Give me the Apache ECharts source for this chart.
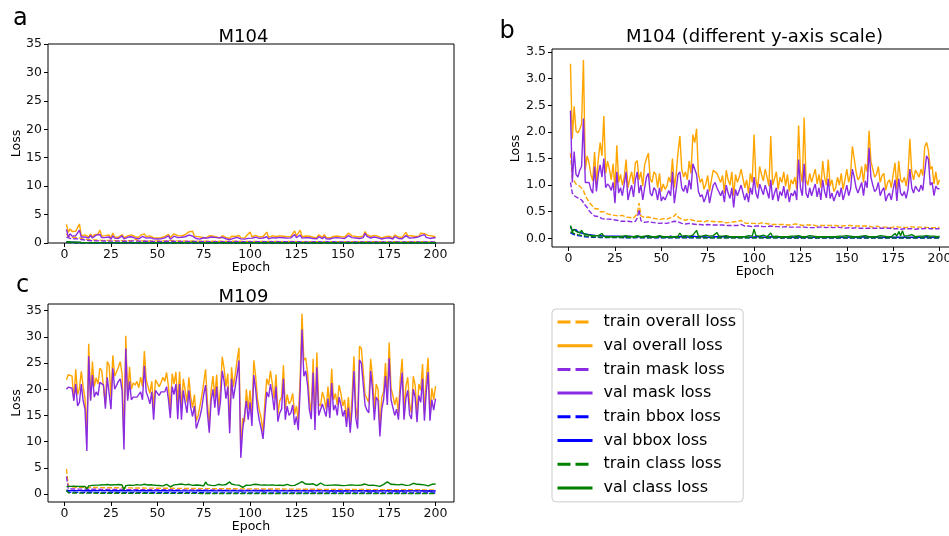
<!DOCTYPE html>
<html lang="en">
<head>
    <meta charset="utf-8">
    <title>M104 / M109 loss curves</title>
    <script src="https://cdn.jsdelivr.net/npm/echarts@6/dist/echarts.min.js"></script>
    <style>
        html, body { margin: 0; padding: 0; background: #fff; }
        #chart { width: 949px; height: 536px; }
    </style>
</head>
<body>
    <div id="chart"></div>
    <script>
        // epochs 1..200
        var epochs = [];
        for (var i = 1; i <= 200; i++) epochs.push(i);
        var xTicks = [0, 25, 50, 75, 100, 125, 150, 175, 200];
        var yTicksA = [0, 5, 10, 15, 20, 25, 30, 35];
        var yTicksB = [0, 0.5, 1.0, 1.5, 2.0, 2.5, 3.0, 3.5];
        var yTicksC = [0, 5, 10, 15, 20, 25, 30, 35];

        var names = ['train overall loss', 'val overall loss', 'train mask loss', 'val mask loss',
                     'train bbox loss', 'val bbox loss', 'train class loss', 'val class loss'];
        var colors = ['#ffa500', '#ffa500', '#8a2be2', '#8a2be2', '#0000ff', '#0000ff', '#008000', '#008000'];

        // ---- M104 ----
        var to104 = [
            1.60,1.12,1.08,1.02,1.00,0.98,0.95,0.90,0.80,0.74, 0.68,0.64,0.60,0.56,0.54,0.55,0.50,0.49,0.50,0.47,
            0.46,0.47,0.44,0.45,0.43,0.44,0.42,0.41,0.43,0.42, 0.40,0.41,0.39,0.40,0.38,0.41,0.46,0.66,0.42,0.40,
            0.39,0.38,0.40,0.37,0.38,0.36,0.37,0.38,0.35,0.36, 0.37,0.35,0.36,0.38,0.39,0.40,0.42,0.46,0.40,0.37,
            0.36,0.37,0.34,0.35,0.36,0.33,0.34,0.35,0.32,0.33, 0.32,0.33,0.31,0.32,0.33,0.31,0.32,0.30,0.31,0.32,
            0.31,0.30,0.31,0.30,0.29,0.31,0.30,0.29,0.31,0.30, 0.31,0.32,0.34,0.30,0.29,0.28,0.29,0.28,0.27,0.28,
            0.28,0.27,0.28,0.29,0.27,0.28,0.26,0.27,0.28,0.26, 0.27,0.26,0.27,0.26,0.25,0.26,0.27,0.25,0.26,0.25,
            0.26,0.27,0.25,0.26,0.25,0.24,0.26,0.25,0.24,0.25, 0.24,0.25,0.24,0.23,0.25,0.24,0.25,0.24,0.23,0.24,
            0.25,0.24,0.23,0.24,0.25,0.23,0.24,0.23,0.22,0.24, 0.23,0.24,0.22,0.23,0.24,0.23,0.22,0.23,0.22,0.23,
            0.22,0.23,0.22,0.21,0.22,0.23,0.22,0.21,0.22,0.21, 0.22,0.21,0.22,0.20,0.21,0.22,0.20,0.21,0.20,0.21,
            0.21,0.20,0.21,0.22,0.20,0.21,0.20,0.21,0.20,0.21, 0.20,0.21,0.22,0.20,0.21,0.20,0.21,0.20,0.21,0.21
        ];
        var vo104 = [
            3.28,1.87,2.48,2.02,1.98,2.05,2.15,3.35,1.30,1.55, 1.42,1.20,1.08,1.62,1.02,1.48,1.80,1.55,2.30,1.22,
            1.45,1.30,1.10,1.40,0.92,1.75,1.05,1.20,1.00,1.15, 1.48,0.95,1.12,1.25,1.02,1.42,1.46,1.10,1.25,0.98,
            1.38,1.50,1.60,1.12,1.05,1.25,1.20,0.95,1.22,0.88, 1.02,0.92,0.98,1.15,1.05,1.50,0.95,1.20,1.62,1.92,
            1.30,1.15,1.25,1.10,1.45,1.22,1.95,1.80,2.06,1.20, 1.05,1.12,0.92,1.02,1.18,0.88,1.10,1.28,1.30,1.22,
            1.25,1.05,1.18,0.85,1.28,1.10,1.00,1.25,0.80,1.20, 1.05,1.15,1.30,1.32,0.95,1.10,0.85,1.22,1.05,1.95,
            1.10,0.95,1.35,1.20,1.08,1.30,1.15,0.98,1.92,1.00, 1.12,1.25,0.92,1.15,1.05,1.25,0.98,1.20,0.88,1.10,
            1.02,1.15,0.92,2.12,1.25,1.05,2.27,1.10,1.00,1.22, 1.05,1.18,1.30,1.02,1.20,0.95,1.45,1.15,1.00,1.48,
            0.98,1.10,0.88,0.95,1.15,1.00,1.22,0.92,1.10,1.30, 1.05,1.20,1.73,1.50,1.25,1.10,1.15,1.35,1.05,1.40,
            1.25,2.02,1.45,1.30,1.15,1.20,1.35,1.05,1.18,1.22, 0.90,1.05,1.10,0.95,1.20,1.42,0.92,1.45,1.10,1.05,
            1.15,0.98,1.20,1.87,1.25,1.10,1.28,1.22,1.15,1.30, 1.18,1.72,1.80,1.65,1.30,1.35,1.02,1.25,1.00,1.10
        ];
        var tm104 = [
            1.05,0.85,0.80,0.78,0.76,0.75,0.72,0.70,0.62,0.58, 0.52,0.48,0.45,0.42,0.40,0.41,0.38,0.37,0.38,0.36,
            0.35,0.36,0.34,0.35,0.33,0.34,0.32,0.32,0.33,0.32, 0.31,0.32,0.30,0.31,0.30,0.32,0.38,0.54,0.33,0.31,
            0.30,0.30,0.31,0.29,0.30,0.28,0.29,0.30,0.28,0.28, 0.29,0.28,0.28,0.30,0.30,0.31,0.32,0.35,0.31,0.29,
            0.28,0.29,0.27,0.28,0.28,0.26,0.27,0.27,0.26,0.26, 0.26,0.26,0.25,0.26,0.26,0.25,0.25,0.24,0.25,0.25,
            0.25,0.24,0.25,0.24,0.24,0.25,0.24,0.23,0.24,0.24, 0.24,0.25,0.26,0.24,0.23,0.23,0.23,0.22,0.22,0.22,
            0.23,0.22,0.23,0.24,0.22,0.23,0.22,0.22,0.23,0.21, 0.22,0.21,0.22,0.21,0.21,0.22,0.22,0.21,0.21,0.21,
            0.21,0.22,0.21,0.21,0.21,0.20,0.21,0.21,0.20,0.21, 0.20,0.21,0.20,0.20,0.21,0.20,0.21,0.20,0.20,0.20,
            0.21,0.20,0.20,0.20,0.21,0.19,0.20,0.20,0.19,0.20, 0.20,0.20,0.19,0.19,0.20,0.20,0.19,0.19,0.19,0.20,
            0.19,0.19,0.19,0.18,0.19,0.20,0.19,0.18,0.19,0.18, 0.19,0.18,0.19,0.18,0.18,0.19,0.18,0.18,0.17,0.18,
            0.18,0.18,0.18,0.19,0.18,0.18,0.17,0.18,0.18,0.18, 0.18,0.18,0.19,0.18,0.18,0.18,0.18,0.18,0.18,0.18
        ];
        var vm104 = [
            2.40,1.05,1.63,1.20,1.15,1.28,1.35,2.25,1.05,1.02, 1.05,0.92,0.85,1.35,0.88,1.20,1.38,1.15,1.50,0.95,
            1.02,0.98,0.90,1.05,0.66,1.25,0.85,0.95,0.80,0.78, 1.25,0.72,0.88,1.00,0.78,1.10,1.25,0.85,1.00,0.72,
            0.95,1.15,1.22,0.85,0.80,0.95,0.90,0.72,0.95,0.70, 0.78,0.72,0.75,0.90,0.80,1.25,0.66,0.92,1.20,1.25,
            0.95,0.88,1.00,0.85,1.10,0.92,1.40,1.43,1.20,0.88, 0.78,0.82,0.68,0.78,0.92,0.66,0.85,1.00,1.05,0.95,
            0.98,0.80,0.90,0.68,1.00,0.85,0.75,0.95,0.58,0.92, 0.80,0.90,1.00,1.02,0.72,0.85,0.68,0.95,0.82,1.15,
            0.85,0.75,1.02,0.92,0.82,1.00,0.88,0.75,1.10,0.72, 0.85,0.95,0.70,0.88,0.80,0.98,0.75,0.92,0.68,0.85,
            0.80,0.90,0.72,1.48,0.95,0.80,1.40,0.85,0.76,0.95, 0.80,0.92,1.02,0.78,0.95,0.72,1.10,0.88,0.76,1.12,
            0.75,0.85,0.70,0.72,0.90,0.78,0.95,0.72,0.85,1.00, 0.80,0.92,1.30,1.15,0.95,0.85,0.88,1.05,0.80,1.08,
            0.95,1.70,1.15,1.00,0.88,0.92,1.05,0.80,0.90,0.95, 0.70,0.80,0.85,0.72,0.92,1.10,0.70,1.12,0.85,0.80,
            0.88,0.75,0.92,1.30,0.95,0.85,0.98,0.92,0.88,1.00, 0.90,1.25,1.55,1.48,1.00,1.05,0.80,0.98,0.93,0.93
        ];
        var tb104 = [
            0.100,0.080,0.070,0.060,0.050,0.045,0.040,0.035,0.030,0.030,0.025,0.022,0.020,0.020,0.018,0.018,0.016,0.015,0.015,0.014,
            0.014,0.013,0.013,0.013,0.012,0.013,0.012,0.012,0.012,0.012,0.011,0.012,0.011,0.012,0.011,0.011,0.012,0.013,0.011,0.011,
            0.011,0.011,0.010,0.011,0.011,0.010,0.011,0.010,0.010,0.011,0.010,0.010,0.010,0.011,0.010,0.010,0.011,0.012,0.010,0.010,
            0.010,0.010,0.009,0.010,0.010,0.009,0.010,0.009,0.009,0.010,0.009,0.009,0.009,0.010,0.009,0.009,0.009,0.009,0.009,0.009,
            0.009,0.009,0.009,0.008,0.009,0.009,0.008,0.009,0.008,0.009,0.008,0.009,0.009,0.008,0.008,0.008,0.008,0.008,0.008,0.008,
            0.008,0.008,0.008,0.008,0.008,0.008,0.007,0.008,0.008,0.007,0.008,0.007,0.008,0.007,0.007,0.008,0.007,0.007,0.007,0.007,
            0.007,0.007,0.007,0.008,0.007,0.007,0.007,0.007,0.007,0.007,0.007,0.007,0.006,0.007,0.007,0.007,0.007,0.006,0.007,0.007,
            0.007,0.006,0.007,0.007,0.006,0.007,0.006,0.007,0.006,0.007,0.006,0.006,0.007,0.006,0.006,0.006,0.007,0.006,0.006,0.006,
            0.006,0.006,0.006,0.006,0.006,0.006,0.006,0.006,0.006,0.006,0.006,0.006,0.006,0.006,0.006,0.006,0.006,0.006,0.006,0.006,
            0.006,0.006,0.005,0.006,0.006,0.006,0.005,0.006,0.006,0.005,0.006,0.006,0.006,0.005,0.006,0.006,0.005,0.006,0.006,0.005
        ];
        var vb104 = [
            0.22,0.15,0.14,0.16,0.12,0.13,0.10,0.12,0.08,0.07,0.07,0.06,0.06,0.05,0.05,0.06,0.05,0.05,0.04,0.04,
            0.04,0.05,0.04,0.03,0.04,0.03,0.04,0.03,0.03,0.04,0.03,0.03,0.04,0.03,0.03,0.04,0.03,0.03,0.03,0.04,
            0.03,0.03,0.04,0.03,0.02,0.03,0.03,0.04,0.03,0.02,0.03,0.03,0.02,0.03,0.04,0.03,0.02,0.03,0.03,0.04,
            0.03,0.02,0.03,0.03,0.02,0.03,0.04,0.03,0.03,0.02,0.03,0.02,0.03,0.03,0.02,0.03,0.02,0.03,0.03,0.02,
            0.03,0.02,0.03,0.02,0.03,0.03,0.02,0.03,0.02,0.03,0.02,0.02,0.03,0.02,0.03,0.02,0.02,0.03,0.02,0.04,
            0.03,0.02,0.03,0.02,0.02,0.03,0.02,0.02,0.03,0.02,0.02,0.03,0.02,0.02,0.02,0.03,0.02,0.02,0.03,0.02,
            0.02,0.02,0.03,0.02,0.02,0.02,0.03,0.02,0.02,0.02,0.02,0.03,0.02,0.02,0.02,0.02,0.03,0.02,0.02,0.02,
            0.02,0.03,0.02,0.02,0.02,0.02,0.02,0.03,0.02,0.02,0.02,0.02,0.03,0.02,0.02,0.02,0.02,0.02,0.03,0.02,
            0.02,0.02,0.03,0.02,0.02,0.02,0.02,0.02,0.02,0.03,0.02,0.02,0.02,0.02,0.02,0.03,0.02,0.03,0.02,0.03,
            0.02,0.02,0.02,0.03,0.02,0.02,0.02,0.02,0.02,0.02,0.02,0.02,0.03,0.02,0.02,0.02,0.02,0.02,0.02,0.02
        ];
        var tc104 = [
            0.120,0.100,0.090,0.080,0.070,0.060,0.055,0.050,0.045,0.040,0.035,0.032,0.030,0.028,0.025,0.024,0.022,0.021,0.020,0.020,
            0.019,0.019,0.018,0.018,0.018,0.017,0.017,0.017,0.016,0.016,0.016,0.016,0.015,0.015,0.015,0.016,0.017,0.020,0.015,0.015,
            0.015,0.014,0.014,0.014,0.014,0.014,0.013,0.014,0.013,0.013,0.013,0.013,0.013,0.013,0.013,0.013,0.014,0.015,0.013,0.013,
            0.012,0.013,0.012,0.012,0.012,0.012,0.012,0.012,0.012,0.012,0.011,0.012,0.011,0.011,0.011,0.011,0.011,0.011,0.011,0.011,
            0.011,0.011,0.011,0.010,0.011,0.010,0.010,0.010,0.010,0.010,0.010,0.010,0.011,0.010,0.010,0.010,0.010,0.010,0.010,0.010,
            0.010,0.010,0.010,0.010,0.010,0.010,0.010,0.010,0.010,0.009,0.010,0.009,0.010,0.009,0.009,0.010,0.009,0.009,0.009,0.009,
            0.009,0.009,0.009,0.009,0.009,0.009,0.009,0.009,0.009,0.009,0.009,0.009,0.009,0.009,0.009,0.009,0.009,0.009,0.009,0.009,
            0.009,0.009,0.009,0.008,0.009,0.009,0.008,0.009,0.009,0.008,0.009,0.008,0.009,0.008,0.008,0.009,0.008,0.008,0.008,0.008,
            0.008,0.008,0.008,0.008,0.008,0.008,0.008,0.008,0.008,0.008,0.008,0.008,0.008,0.008,0.008,0.008,0.008,0.008,0.008,0.008,
            0.008,0.008,0.008,0.008,0.008,0.008,0.008,0.008,0.008,0.008,0.008,0.008,0.008,0.008,0.008,0.008,0.008,0.008,0.008,0.008
        ];
        var vc104 = [
            0.24,0.12,0.17,0.13,0.16,0.10,0.15,0.09,0.10,0.07,0.06,0.05,0.06,0.05,0.04,0.05,0.04,0.09,0.04,0.03,
            0.03,0.04,0.03,0.05,0.03,0.04,0.03,0.03,0.04,0.03,0.05,0.03,0.03,0.04,0.03,0.03,0.05,0.04,0.03,0.03,
            0.04,0.03,0.05,0.03,0.03,0.04,0.03,0.03,0.05,0.03,0.03,0.04,0.03,0.06,0.03,0.04,0.03,0.05,0.04,0.10,
            0.04,0.03,0.05,0.03,0.04,0.03,0.06,0.04,0.15,0.04,0.03,0.04,0.03,0.06,0.03,0.04,0.03,0.05,0.03,0.11,
            0.04,0.03,0.04,0.03,0.05,0.03,0.03,0.04,0.03,0.05,0.03,0.04,0.03,0.04,0.03,0.03,0.05,0.03,0.04,0.17,
            0.05,0.03,0.04,0.03,0.06,0.04,0.03,0.04,0.10,0.03,0.03,0.04,0.03,0.03,0.05,0.03,0.04,0.03,0.03,0.04,
            0.03,0.04,0.03,0.05,0.04,0.03,0.04,0.03,0.03,0.05,0.03,0.04,0.03,0.03,0.04,0.03,0.04,0.03,0.06,0.03,
            0.04,0.03,0.05,0.03,0.03,0.04,0.03,0.04,0.03,0.05,0.03,0.04,0.07,0.03,0.04,0.03,0.03,0.04,0.03,0.05,
            0.04,0.03,0.05,0.03,0.04,0.03,0.03,0.05,0.03,0.04,0.03,0.03,0.04,0.03,0.05,0.09,0.04,0.13,0.05,0.14,
            0.04,0.03,0.05,0.04,0.07,0.04,0.03,0.05,0.04,0.03,0.04,0.03,0.05,0.08,0.04,0.03,0.04,0.03,0.03,0.04
        ];

        // ---- M109 ----
        var to109 = [
            4.80,1.55,1.40,1.35,1.32,1.30,1.30,1.28,1.27,1.28,1.26,1.25,1.25,1.24,1.25,1.23,1.22,1.23,1.22,1.21,
            1.21,1.20,1.21,1.19,1.20,1.18,1.19,1.18,1.17,1.18,1.17,1.16,1.17,1.16,1.15,1.16,1.15,1.14,1.15,1.14,
            1.13,1.14,1.13,1.12,1.13,1.12,1.11,1.12,1.11,1.10,1.11,1.10,1.10,1.09,1.10,1.09,1.08,1.09,1.08,1.07,
            1.08,1.07,1.07,1.06,1.07,1.06,1.05,1.06,1.05,1.05,1.04,1.05,1.04,1.03,1.04,1.03,1.03,1.02,1.03,1.02,
            1.02,1.01,1.02,1.01,1.01,1.00,1.01,1.00,1.00,0.99,1.00,0.99,0.99,0.98,0.99,0.98,0.98,0.97,0.98,0.97,
            0.97,0.97,0.96,0.97,0.96,0.96,0.95,0.96,0.95,0.95,0.95,0.94,0.95,0.94,0.94,0.94,0.93,0.94,0.93,0.93,
            0.93,0.92,0.93,0.92,0.92,0.92,0.91,0.92,0.91,0.91,0.91,0.90,0.91,0.90,0.90,0.90,0.90,0.89,0.90,0.89,
            0.89,0.89,0.88,0.89,0.88,0.88,0.88,0.87,0.88,0.87,0.87,0.87,0.86,0.87,0.86,0.86,0.86,0.86,0.85,0.86,
            0.85,0.85,0.85,0.84,0.85,0.84,0.84,0.84,0.84,0.83,0.84,0.83,0.83,0.83,0.83,0.82,0.83,0.82,0.82,0.82,
            0.82,0.81,0.82,0.81,0.81,0.81,0.81,0.80,0.81,0.80,0.80,0.80,0.80,0.79,0.80,0.79,0.79,0.79,0.79,0.79
        ];
        var vo109 = [
            21.8,22.8,23.0,22.5,18.0,23.8,19.0,20.2,23.4,20.5, 18.2,11.8,28.7,18.0,25.3,20.5,22.2,21.0,24.0,23.6,
            23.8,17.0,25.3,24.6,18.5,26.5,22.5,22.2,24.2,25.3, 22.8,10.2,30.2,18.2,24.3,20.0,21.2,20.8,21.5,20.3,
            22.3,20.5,27.3,21.8,20.5,19.2,21.5,16.2,21.8,22.0, 20.5,21.3,22.3,21.5,23.2,20.5,16.2,23.0,21.0,23.3,
            17.3,23.4,16.2,22.0,19.8,17.5,22.3,18.5,16.5,19.0, 14.0,15.0,16.8,18.8,21.2,23.8,17.5,13.0,19.8,22.5,
            18.5,22.8,16.5,19.8,26.2,24.0,20.5,23.0,12.8,24.2, 20.5,22.8,25.5,27.9,8.5,14.5,13.8,20.0,16.2,19.8,
            14.8,25.5,22.5,18.2,16.0,14.5,11.8,17.5,22.0,20.8, 23.5,21.0,18.2,22.8,15.2,17.8,18.5,24.6,16.2,19.0,
            17.2,17.8,19.2,15.2,16.8,14.0,22.2,34.4,25.5,26.0, 23.2,18.0,15.5,25.8,13.8,27.0,17.2,16.8,19.5,18.2,
            16.2,20.5,16.5,23.9,18.0,19.2,17.0,20.8,19.2,16.8, 18.0,14.0,18.5,13.2,18.5,26.3,16.5,14.2,28.2,27.8,
            23.5,19.0,18.2,17.5,25.8,22.5,16.2,21.0,20.0,12.5, 18.5,19.5,25.0,19.0,28.9,20.2,18.8,17.0,18.5,15.5,
            22.0,25.8,16.0,20.5,22.3,17.2,15.5,22.5,20.8,15.0, 21.0,19.8,24.8,15.5,22.0,26.0,15.2,20.2,18.0,20.6
        ];
        var tm109 = [
            3.30,1.05,0.98,0.96,0.95,0.94,0.94,0.93,0.92,0.93,0.92,0.91,0.91,0.90,0.91,0.90,0.89,0.90,0.89,0.88,
            0.88,0.88,0.87,0.88,0.87,0.86,0.87,0.86,0.86,0.85,0.86,0.85,0.85,0.84,0.85,0.84,0.84,0.83,0.84,0.83,
            0.83,0.83,0.82,0.83,0.82,0.82,0.81,0.82,0.81,0.81,0.81,0.80,0.81,0.80,0.80,0.80,0.79,0.80,0.79,0.79,
            0.79,0.78,0.79,0.78,0.78,0.78,0.77,0.78,0.77,0.77,0.77,0.76,0.77,0.76,0.76,0.76,0.75,0.76,0.75,0.75,
            0.75,0.75,0.74,0.75,0.74,0.74,0.74,0.73,0.74,0.73,0.73,0.73,0.72,0.73,0.72,0.72,0.72,0.72,0.71,0.72,
            0.71,0.71,0.71,0.71,0.70,0.71,0.70,0.70,0.70,0.70,0.69,0.70,0.69,0.69,0.69,0.69,0.68,0.69,0.68,0.68,
            0.68,0.68,0.68,0.67,0.68,0.67,0.67,0.67,0.67,0.66,0.67,0.66,0.66,0.66,0.66,0.66,0.65,0.66,0.65,0.65,
            0.65,0.65,0.65,0.65,0.64,0.65,0.64,0.64,0.64,0.64,0.64,0.63,0.64,0.63,0.63,0.63,0.63,0.63,0.62,0.63,
            0.62,0.62,0.62,0.62,0.62,0.61,0.62,0.61,0.61,0.61,0.61,0.61,0.60,0.61,0.60,0.60,0.60,0.60,0.60,0.60,
            0.59,0.60,0.59,0.59,0.59,0.59,0.59,0.59,0.58,0.59,0.58,0.58,0.58,0.58,0.58,0.58,0.58,0.57,0.58,0.57
        ];
        var vm109 = [
            20.0,20.4,20.5,20.2,17.8,21.0,16.8,17.5,21.0,17.8, 16.2,8.2,26.3,17.8,22.7,18.5,19.5,18.8,21.3,21.0,
            20.8,16.3,22.3,22.0,16.2,24.0,20.0,19.8,21.5,22.0, 19.8,8.5,27.8,17.8,21.5,18.0,18.5,18.3,18.5,18.2,
            19.5,18.0,24.5,19.5,18.5,17.2,19.5,14.2,19.8,20.0, 18.8,19.5,19.8,19.5,20.5,18.0,14.5,20.5,19.0,21.0,
            14.3,21.0,14.2,19.8,17.5,15.5,19.8,16.5,14.8,16.8, 12.5,12.8,14.8,16.5,19.0,20.8,15.5,11.7,17.8,20.0,
            16.5,20.5,15.0,17.5,23.5,21.5,18.2,20.5,11.6,22.0, 18.2,20.5,22.8,25.5,6.9,12.2,12.0,17.8,14.2,17.5,
            13.0,22.7,20.0,16.2,14.0,12.5,10.5,15.2,19.5,18.5, 21.0,18.8,16.0,20.5,13.8,15.5,16.2,22.0,14.2,16.8,
            15.0,15.5,17.0,13.2,14.8,12.2,19.8,31.4,22.5,23.5, 20.8,16.0,14.3,23.2,12.2,24.2,15.0,14.8,17.2,16.0,
            14.8,18.2,14.5,21.2,16.0,17.0,15.0,18.5,17.0,14.8, 16.0,12.8,16.5,11.7,16.2,23.5,14.5,12.5,25.6,25.0,
            21.0,17.0,16.0,15.5,23.5,20.0,14.1,18.5,17.8,11.0, 16.2,18.0,22.5,17.0,25.9,18.0,16.5,15.0,16.2,14.2,
            19.5,23.2,14.2,18.2,19.8,15.2,14.3,20.0,18.5,13.7, 18.8,17.5,22.0,14.0,19.5,23.3,14.0,18.0,16.0,18.2
        ];
        var tb109 = [
            0.55,0.32,0.31,0.31,0.30,0.30,0.30,0.30,0.29,0.30,0.29,0.29,0.29,0.29,0.28,0.29,0.28,0.28,0.28,0.28,
            0.28,0.28,0.27,0.28,0.27,0.27,0.27,0.27,0.27,0.27,0.26,0.27,0.26,0.26,0.26,0.26,0.26,0.26,0.26,0.25,
            0.26,0.25,0.25,0.25,0.25,0.25,0.25,0.25,0.25,0.24,0.25,0.24,0.24,0.24,0.24,0.24,0.24,0.24,0.24,0.24,
            0.24,0.23,0.24,0.23,0.23,0.23,0.23,0.23,0.23,0.23,0.23,0.23,0.23,0.22,0.23,0.22,0.22,0.22,0.22,0.22,
            0.22,0.22,0.22,0.22,0.22,0.22,0.22,0.22,0.21,0.22,0.21,0.22,0.21,0.21,0.21,0.21,0.21,0.21,0.21,0.21,
            0.21,0.21,0.21,0.21,0.21,0.21,0.21,0.20,0.21,0.21,0.20,0.21,0.20,0.20,0.21,0.20,0.20,0.20,0.20,0.20,
            0.20,0.20,0.20,0.20,0.20,0.20,0.20,0.20,0.20,0.20,0.20,0.20,0.20,0.19,0.20,0.20,0.19,0.20,0.19,0.20,
            0.19,0.20,0.19,0.19,0.19,0.20,0.19,0.19,0.19,0.19,0.19,0.19,0.19,0.19,0.19,0.19,0.19,0.19,0.19,0.19,
            0.19,0.19,0.19,0.19,0.18,0.19,0.19,0.18,0.19,0.19,0.18,0.19,0.18,0.19,0.18,0.18,0.19,0.18,0.18,0.18,
            0.18,0.18,0.18,0.18,0.18,0.18,0.18,0.18,0.18,0.18,0.18,0.18,0.18,0.18,0.18,0.18,0.18,0.18,0.18,0.18
        ];
        var vb109 = [
            0.70,0.66,0.64,0.65,0.63,0.66,0.64,0.63,0.65,0.64,0.63,0.62,0.66,0.64,0.63,0.65,0.64,0.63,0.64,0.65,
            0.64,0.62,0.65,0.63,0.61,0.64,0.62,0.63,0.61,0.62,0.64,0.58,0.62,0.63,0.61,0.62,0.60,0.63,0.62,0.61,
            0.62,0.60,0.63,0.61,0.62,0.60,0.61,0.63,0.60,0.62,0.61,0.60,0.62,0.61,0.63,0.60,0.59,0.62,0.61,0.60,
            0.61,0.62,0.60,0.61,0.59,0.62,0.60,0.61,0.60,0.62,0.59,0.60,0.61,0.60,0.62,0.61,0.59,0.60,0.61,0.60,
            0.60,0.61,0.59,0.60,0.62,0.60,0.61,0.59,0.60,0.61,0.62,0.60,0.59,0.61,0.57,0.59,0.60,0.61,0.60,0.59,
            0.60,0.61,0.59,0.60,0.61,0.59,0.58,0.60,0.61,0.59,0.60,0.61,0.59,0.60,0.58,0.59,0.60,0.61,0.59,0.60,
            0.59,0.60,0.61,0.59,0.60,0.58,0.60,0.62,0.61,0.60,0.59,0.60,0.58,0.61,0.59,0.60,0.59,0.61,0.60,0.59,
            0.60,0.59,0.58,0.60,0.59,0.60,0.58,0.59,0.60,0.59,0.58,0.59,0.60,0.58,0.59,0.60,0.59,0.58,0.61,0.60,
            0.60,0.59,0.58,0.59,0.60,0.59,0.58,0.59,0.60,0.57,0.59,0.60,0.59,0.61,0.60,0.59,0.58,0.59,0.58,0.59,
            0.59,0.60,0.58,0.59,0.60,0.58,0.59,0.60,0.59,0.58,0.59,0.58,0.60,0.59,0.58,0.59,0.58,0.59,0.58,0.59
        ];
        var tc109 = [
            0.75,0.25,0.20,0.19,0.18,0.18,0.18,0.17,0.17,0.17,0.17,0.16,0.17,0.16,0.16,0.16,0.16,0.15,0.16,0.15,
            0.15,0.15,0.15,0.15,0.15,0.14,0.15,0.14,0.14,0.14,0.14,0.14,0.14,0.14,0.13,0.14,0.13,0.13,0.13,0.13,
            0.13,0.13,0.13,0.13,0.12,0.13,0.12,0.12,0.12,0.12,0.12,0.12,0.12,0.12,0.12,0.11,0.12,0.11,0.11,0.11,
            0.11,0.11,0.11,0.11,0.11,0.11,0.11,0.11,0.10,0.11,0.10,0.11,0.10,0.10,0.10,0.10,0.10,0.10,0.10,0.10,
            0.10,0.10,0.10,0.10,0.10,0.10,0.10,0.10,0.10,0.10,0.09,0.10,0.09,0.10,0.09,0.09,0.10,0.09,0.09,0.09,
            0.09,0.09,0.09,0.09,0.09,0.09,0.09,0.09,0.09,0.09,0.09,0.09,0.09,0.09,0.09,0.09,0.09,0.09,0.09,0.09,
            0.09,0.09,0.09,0.09,0.09,0.09,0.09,0.09,0.09,0.08,0.09,0.09,0.08,0.09,0.09,0.08,0.09,0.08,0.09,0.08,
            0.08,0.09,0.08,0.08,0.09,0.08,0.08,0.08,0.08,0.08,0.08,0.08,0.08,0.08,0.08,0.08,0.08,0.08,0.08,0.08,
            0.08,0.08,0.08,0.08,0.08,0.08,0.08,0.08,0.08,0.08,0.08,0.08,0.08,0.08,0.08,0.08,0.08,0.08,0.08,0.08,
            0.08,0.08,0.08,0.08,0.08,0.08,0.08,0.08,0.08,0.08,0.08,0.08,0.08,0.08,0.08,0.08,0.08,0.08,0.08,0.08
        ];
        var vc109 = [
            1.40,1.35,1.45,1.42,1.48,1.40,1.45,1.50,1.42,1.48,1.45,0.95,1.55,1.50,1.65,1.60,1.70,1.65,1.72,1.68,
            1.75,2.10,1.80,1.85,1.72,1.90,1.75,1.70,1.80,1.68,1.72,0.80,1.60,1.75,1.70,1.82,1.65,1.70,1.78,1.62,
            1.70,1.58,1.85,1.65,1.72,1.60,1.75,1.55,1.68,1.80,1.62,1.70,1.55,1.65,1.85,1.60,1.35,1.70,1.75,1.62,
            1.80,1.65,1.90,1.70,1.75,1.60,1.85,1.70,1.65,1.95,1.72,1.60,1.68,1.85,1.55,2.30,1.80,1.70,1.65,1.78,
            1.60,1.72,1.85,1.62,1.70,1.55,1.80,1.65,2.30,1.90,2.05,1.75,1.60,1.70,1.45,1.25,1.55,1.70,1.85,1.65,
            1.72,1.85,2.10,1.80,1.65,1.70,1.55,1.75,1.95,1.70,1.60,1.75,1.85,1.65,1.55,1.70,1.80,1.62,1.75,1.85,
            1.70,1.60,1.78,1.65,1.85,2.00,1.75,2.35,2.05,1.90,1.70,1.85,1.65,1.95,1.75,1.60,1.80,2.10,1.85,1.70,
            1.75,1.65,1.55,1.70,1.62,1.75,1.58,1.68,1.72,1.60,1.55,1.65,1.50,1.75,1.62,1.70,1.85,1.65,1.80,1.72,
            2.05,1.90,1.75,1.65,1.80,1.70,1.85,1.60,1.75,1.45,1.70,1.85,1.95,2.30,2.05,1.85,1.70,1.80,1.65,1.75,
            1.70,1.85,1.75,1.65,1.80,1.70,1.90,2.05,2.20,1.85,1.70,1.80,1.65,1.75,1.60,1.55,1.70,1.85,1.60,1.90
        ];

        var m104 = [to104, vo104, tm104, vm104, tb104, vb104, tc104, vc104];
        var m109 = [to109, vo109, tm109, vm109, tb109, vb109, tc109, vc109];

        var FONT = 'DejaVu Sans';

        function pairs(vals) {
            return epochs.map(function (e, i) { return [e, vals[i]]; });
        }

        function panelSeries(set, idx) {
            return set.map(function (vals, k) {
                return {
                    name: names[k], type: 'line', xAxisIndex: idx, yAxisIndex: idx,
                    data: pairs(vals), symbol: 'none', silent: true, animation: false,
                    color: colors[k],
                    lineStyle: { width: 1.4, color: colors[k], type: k % 2 === 0 ? [5, 2] : 'solid' }
                };
            });
        }

        function xAxis(idx) {
            return {
                type: 'value', gridIndex: idx, min: -8.95, max: 209.95,
                axisLine: { show: false, onZero: false },
                axisTick: { show: true, length: 4, customValues: xTicks, lineStyle: { color: '#000' } },
                axisLabel: { customValues: xTicks, margin: 5, fontSize: 12.5, color: '#111', fontFamily: FONT },
                splitLine: { show: false }
            };
        }

        function yAxis(idx, min, max, ticks, digits) {
            return {
                type: 'value', gridIndex: idx, min: min, max: max,
                axisLine: { show: false, onZero: false },
                axisTick: { show: true, length: 4, customValues: ticks, lineStyle: { color: '#000' } },
                axisLabel: {
                    customValues: ticks, margin: 6, fontSize: 12.5, color: '#111', fontFamily: FONT,
                    formatter: function (v) { return v.toFixed(digits); }
                },
                splitLine: { show: false }
            };
        }

        function txt(x, y, s, size, rot) {
            return {
                type: 'text', x: x, y: y, rotation: rot || 0, z: 10,
                style: { text: s, font: size + 'px "' + FONT + '"', fill: '#000', textAlign: 'center', textVerticalAlign: 'middle' }
            };
        }

        // no outer-bounds squeezing: panel b deliberately runs past the right edge
        var gridStyle = { show: true, borderColor: '#000', borderWidth: 1, backgroundColor: 'transparent', outerBoundsMode: 'none', containLabel: false };

        var option = {
            backgroundColor: '#fff',
            animation: false,
            grid: [
                Object.assign({ left: 48, top: 44, width: 406, height: 199 }, gridStyle),
                Object.assign({ left: 552, top: 49, width: 406, height: 198 }, gridStyle),
                Object.assign({ left: 48, top: 304, width: 406, height: 198 }, gridStyle)
            ],
            xAxis: [xAxis(0), xAxis(1), xAxis(2)],
            yAxis: [
                yAxis(0, 0, 35, yTicksA, 0),
                yAxis(1, -0.1635, 3.558, yTicksB, 1),
                yAxis(2, -1.53, 36.28, yTicksC, 0)
            ],
            legend: {
                orient: 'vertical', left: 552, top: 309,
                itemWidth: 35, itemHeight: 6, itemGap: 7.7,
                padding: [5, 7, 6, 4],
                borderColor: '#cccccc', borderWidth: 1, borderRadius: 4, backgroundColor: '#fff',
                selectedMode: false,
                itemStyle: { opacity: 0 },
                lineStyle: { width: 3 },
                textStyle: { fontSize: 16, lineHeight: 16, fontFamily: FONT, color: '#000', padding: [0, 0, 0, 6] },
                data: names.map(function (n, k) {
                    return k % 2 === 0 ? { name: n, lineStyle: { type: [13, 5] } } : { name: n };
                })
            },
            graphic: [
                txt(20.3, 19, 'a', 24), txt(507, 32, 'b', 24), txt(22.5, 285.5, 'c', 24),
                txt(243.5, 37, 'M104', 18),
                txt(754.5, 37, 'M104 (different y-axis scale)', 18),
                txt(243.5, 297, 'M109', 18),
                txt(16.5, 143.5, 'Loss', 12.5, Math.PI / 2),
                txt(515.8, 148.5, 'Loss', 12.5, Math.PI / 2),
                txt(16.5, 403, 'Loss', 12.5, Math.PI / 2),
                txt(251, 267.6, 'Epoch', 12.5),
                txt(755, 272, 'Epoch', 12.5),
                txt(251, 527.2, 'Epoch', 12.5),
                // panel a was cropped just under its x label
                { type: 'rect', z: 11, shape: { x: 200, y: 273, width: 110, height: 14 }, style: { fill: '#fff' } }
            ],
            series: [].concat(panelSeries(m104, 0), panelSeries(m104, 1), panelSeries(m109, 2))
        };

        var myChart = echarts.init(document.getElementById('chart'), null, { renderer: 'canvas' });
        myChart.setOption(option);
    </script>
</body>
</html>
